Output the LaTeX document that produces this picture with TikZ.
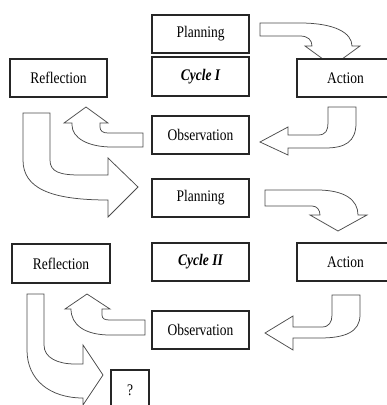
\documentclass[tikz,border=0pt]{standalone}
\usepackage{fontspec}
\setmainfont{Liberation Serif}
\newcommand{\vst}[1]{\scalebox{1}[1.2]{#1}}
\begin{document}
\begin{tikzpicture}[x=1pt,y=-1pt,
  box/.style={draw=black!85,line width=1.1pt,fill=white,minimum width=97pt,minimum height=38pt,inner sep=0pt,font=\fontsize{13.5}{16}\selectfont},
  cyc/.style={box,font=\fontsize{13.5}{16}\selectfont\bfseries\itshape},
  barrow/.style={draw=black!70,line width=0.75pt,fill=white,line join=miter}]
\useasboundingbox (0,0) rectangle (387,405);
\clip (0,0) rectangle (387,405);
% block arrows
\draw[barrow] (260,23) -- (300,23) .. controls (335,23) and (352,33) .. (352,46) -- (360,46) -- (332.5,66) -- (305,46) -- (312,46) .. controls (312,40) and (308,36) .. (300,36) -- (260,36) -- cycle;
\draw[barrow] (328,107) -- (356,107) -- (356,123) .. controls (356,142) and (345,148) .. (325,148) -- (288,148) -- (288,155) -- (260,142) -- (288,127) -- (288,135) -- (318,135) .. controls (326,135) and (328,130) .. (328,123) -- cycle;
\draw[barrow] (143,133) -- (143,147) -- (112,147) .. controls (88,147) and (72,138) .. (72,125) -- (72,123) -- (64,123) -- (86,107) -- (108,123) -- (100,123) -- (100,127) .. controls (100,131) and (103,133) .. (108,133) -- cycle;
\draw[barrow] (23,113) -- (50,113) -- (50,160) .. controls (50,172) and (60,175) .. (80,175) -- (108,175) -- (108,158) -- (138,187) -- (108,217) -- (108,200) .. controls (50,200) and (23,188) .. (23,160) -- cycle;
\draw[barrow] (265,190) -- (317,190) .. controls (345,190) and (358,200) .. (358,215) -- (367,215) -- (338,231) -- (310,215) -- (320,215) .. controls (320,210) and (317,206) .. (312,206) -- (265,206) -- cycle;
\draw[barrow] (332,295) -- (360,295) -- (360,315) .. controls (360,332) and (345,338) .. (320,338) -- (293,338) -- (293,350) -- (265,333) -- (293,316) -- (293,327) -- (322,327) .. controls (329,327) and (332,322) .. (332,315) -- cycle;
\draw[barrow] (145,320) -- (145,335) -- (110,335) .. controls (85,335) and (71,325) .. (71,309) -- (65,309) -- (87,294) -- (110,309) -- (102,309) -- (102,315) .. controls (102,319) and (105,320) .. (110,320) -- cycle;
\draw[barrow] (27,294) -- (44,294) -- (44,345) .. controls (44,358) and (58,364) .. (75,364) -- (83,364) -- (83,345) -- (103,375) -- (83,405) -- (83,398) .. controls (50,398) and (27,380) .. (27,350) -- cycle;
% boxes
\node[box] (p1) at (200.5,34) {\vst{Planning}};
\node[cyc,minimum height=39pt] (c1) at (200.5,76.5) {\vst{Cycle I}};
\node[box] (r1) at (58.5,78) {\vst{Reflection}};
\node[box] (a1) at (345.5,78) {\vst{Action}};
\node[box] (o1) at (200.5,135) {\vst{Observation}};
\node[box] (p2) at (200.5,198) {\vst{Planning}};
\node[cyc] (c2) at (200.5,262) {\vst{Cycle II}};
\node[box,minimum width=98pt,minimum height=39pt] (r2) at (61,263.5) {\vst{Reflection}};
\node[box] (a2) at (345.5,262) {\vst{Action}};
\node[box] (o2) at (200.5,330) {\vst{Observation}};
\node[box,minimum width=38pt,minimum height=40pt] (q) at (130,390) {\vst{?}};
\end{tikzpicture}
\end{document}
